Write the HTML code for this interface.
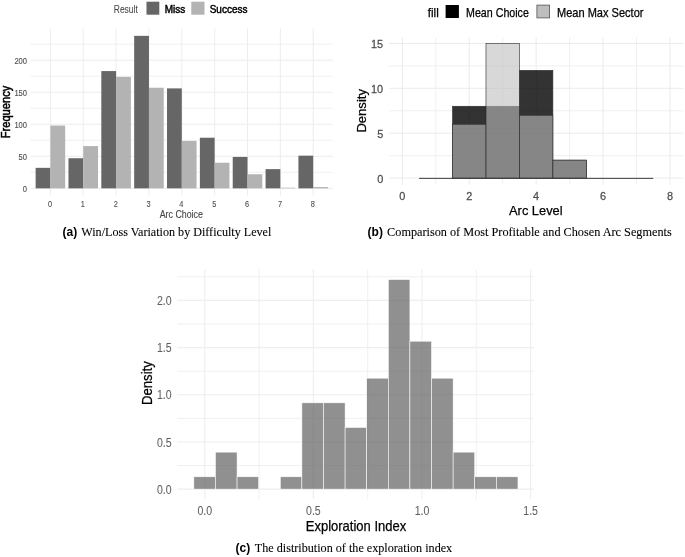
<!DOCTYPE html>
<html><head><meta charset="utf-8"><style>
html,body{margin:0;padding:0;background:#fff;}
svg{display:block;font-family:"Liberation Sans", sans-serif;will-change:transform;}
</style></head><body>
<svg width="685" height="557" viewBox="0 0 685 557">
<line x1="30.7" y1="172.33" x2="332.9" y2="172.33" stroke="#eeeeee" stroke-width="0.9"/>
<line x1="30.7" y1="140.29" x2="332.9" y2="140.29" stroke="#eeeeee" stroke-width="0.9"/>
<line x1="30.7" y1="108.25" x2="332.9" y2="108.25" stroke="#eeeeee" stroke-width="0.9"/>
<line x1="30.7" y1="76.21" x2="332.9" y2="76.21" stroke="#eeeeee" stroke-width="0.9"/>
<line x1="30.7" y1="44.17" x2="332.9" y2="44.17" stroke="#eeeeee" stroke-width="0.9"/>
<line x1="30.7" y1="188.35" x2="332.9" y2="188.35" stroke="#ebebeb" stroke-width="0.9"/>
<line x1="30.7" y1="156.31" x2="332.9" y2="156.31" stroke="#ebebeb" stroke-width="0.9"/>
<line x1="30.7" y1="124.27" x2="332.9" y2="124.27" stroke="#ebebeb" stroke-width="0.9"/>
<line x1="30.7" y1="92.23" x2="332.9" y2="92.23" stroke="#ebebeb" stroke-width="0.9"/>
<line x1="30.7" y1="60.19" x2="332.9" y2="60.19" stroke="#ebebeb" stroke-width="0.9"/>
<line x1="50.4" y1="28.6" x2="50.4" y2="195.6" stroke="#ebebeb" stroke-width="0.9"/>
<line x1="83.25" y1="28.6" x2="83.25" y2="195.6" stroke="#ebebeb" stroke-width="0.9"/>
<line x1="116.1" y1="28.6" x2="116.1" y2="195.6" stroke="#ebebeb" stroke-width="0.9"/>
<line x1="148.95" y1="28.6" x2="148.95" y2="195.6" stroke="#ebebeb" stroke-width="0.9"/>
<line x1="181.8" y1="28.6" x2="181.8" y2="195.6" stroke="#ebebeb" stroke-width="0.9"/>
<line x1="214.65" y1="28.6" x2="214.65" y2="195.6" stroke="#ebebeb" stroke-width="0.9"/>
<line x1="247.5" y1="28.6" x2="247.5" y2="195.6" stroke="#ebebeb" stroke-width="0.9"/>
<line x1="280.35" y1="28.6" x2="280.35" y2="195.6" stroke="#ebebeb" stroke-width="0.9"/>
<line x1="313.2" y1="28.6" x2="313.2" y2="195.6" stroke="#ebebeb" stroke-width="0.9"/>
<rect x="35.62" y="167.84" width="14.78" height="20.51" fill="#666666"/>
<rect x="50.4" y="125.55" width="14.78" height="62.8" fill="#b3b3b3"/>
<rect x="68.47" y="158.23" width="14.78" height="30.12" fill="#666666"/>
<rect x="83.25" y="146.06" width="14.78" height="42.29" fill="#b3b3b3"/>
<rect x="101.32" y="71.08" width="14.78" height="117.27" fill="#666666"/>
<rect x="116.1" y="76.85" width="14.78" height="111.5" fill="#b3b3b3"/>
<rect x="134.17" y="35.84" width="14.78" height="152.51" fill="#666666"/>
<rect x="148.95" y="87.74" width="14.78" height="100.61" fill="#b3b3b3"/>
<rect x="167.02" y="88.39" width="14.78" height="99.96" fill="#666666"/>
<rect x="181.8" y="140.93" width="14.78" height="47.42" fill="#b3b3b3"/>
<rect x="199.87" y="137.73" width="14.78" height="50.62" fill="#666666"/>
<rect x="214.65" y="162.72" width="14.78" height="25.63" fill="#b3b3b3"/>
<rect x="232.72" y="156.95" width="14.78" height="31.4" fill="#666666"/>
<rect x="247.5" y="174.25" width="14.78" height="14.1" fill="#b3b3b3"/>
<rect x="265.57" y="169.13" width="14.78" height="19.22" fill="#666666"/>
<rect x="280.35" y="187.71" width="14.78" height="0.64" fill="#b3b3b3"/>
<rect x="298.42" y="155.67" width="14.78" height="32.68" fill="#666666"/>
<rect x="313.2" y="187.07" width="14.78" height="1.28" fill="#b3b3b3"/>
<g transform="translate(27 191.75) scale(0.87 1)">
<text x="0" y="0" font-size="8.7" fill="#4d4d4d" text-anchor="end" stroke="#4d4d4d" stroke-width="0.12">0</text>
</g>
<g transform="translate(27 159.71) scale(0.87 1)">
<text x="0" y="0" font-size="8.7" fill="#4d4d4d" text-anchor="end" stroke="#4d4d4d" stroke-width="0.12">50</text>
</g>
<g transform="translate(27 127.67) scale(0.87 1)">
<text x="0" y="0" font-size="8.7" fill="#4d4d4d" text-anchor="end" stroke="#4d4d4d" stroke-width="0.12">100</text>
</g>
<g transform="translate(27 95.63) scale(0.87 1)">
<text x="0" y="0" font-size="8.7" fill="#4d4d4d" text-anchor="end" stroke="#4d4d4d" stroke-width="0.12">150</text>
</g>
<g transform="translate(27 63.59) scale(0.87 1)">
<text x="0" y="0" font-size="8.7" fill="#4d4d4d" text-anchor="end" stroke="#4d4d4d" stroke-width="0.12">200</text>
</g>
<g transform="translate(50 206.9) scale(0.84 1)">
<text x="0" y="0" font-size="8.8" fill="#4d4d4d" text-anchor="middle" stroke="#4d4d4d" stroke-width="0.1">0</text>
</g>
<g transform="translate(82.85 206.9) scale(0.84 1)">
<text x="0" y="0" font-size="8.8" fill="#4d4d4d" text-anchor="middle" stroke="#4d4d4d" stroke-width="0.1">1</text>
</g>
<g transform="translate(115.7 206.9) scale(0.84 1)">
<text x="0" y="0" font-size="8.8" fill="#4d4d4d" text-anchor="middle" stroke="#4d4d4d" stroke-width="0.1">2</text>
</g>
<g transform="translate(148.55 206.9) scale(0.84 1)">
<text x="0" y="0" font-size="8.8" fill="#4d4d4d" text-anchor="middle" stroke="#4d4d4d" stroke-width="0.1">3</text>
</g>
<g transform="translate(181.4 206.9) scale(0.84 1)">
<text x="0" y="0" font-size="8.8" fill="#4d4d4d" text-anchor="middle" stroke="#4d4d4d" stroke-width="0.1">4</text>
</g>
<g transform="translate(214.25 206.9) scale(0.84 1)">
<text x="0" y="0" font-size="8.8" fill="#4d4d4d" text-anchor="middle" stroke="#4d4d4d" stroke-width="0.1">5</text>
</g>
<g transform="translate(247.1 206.9) scale(0.84 1)">
<text x="0" y="0" font-size="8.8" fill="#4d4d4d" text-anchor="middle" stroke="#4d4d4d" stroke-width="0.1">6</text>
</g>
<g transform="translate(279.95 206.9) scale(0.84 1)">
<text x="0" y="0" font-size="8.8" fill="#4d4d4d" text-anchor="middle" stroke="#4d4d4d" stroke-width="0.1">7</text>
</g>
<g transform="translate(312.8 206.9) scale(0.84 1)">
<text x="0" y="0" font-size="8.8" fill="#4d4d4d" text-anchor="middle" stroke="#4d4d4d" stroke-width="0.1">8</text>
</g>
<text x="181.3" y="218.3" font-size="10.1" fill="#444" text-anchor="middle" textLength="43.2" lengthAdjust="spacingAndGlyphs" stroke="#444" stroke-width="0.1">Arc Choice</text>
<text x="10.3" y="112" font-size="11.9" fill="#000" text-anchor="middle" textLength="52.5" lengthAdjust="spacingAndGlyphs" transform="rotate(-90 10.3 112)" stroke="#000" stroke-width="0.5">Frequency</text>
<text x="113.8" y="12.8" font-size="10.1" fill="#444" text-anchor="start" textLength="24" lengthAdjust="spacingAndGlyphs" stroke="#444" stroke-width="0.05">Result</text>
<rect x="146.5" y="1.7" width="12.8" height="13" fill="#666666"/>
<text x="164.7" y="12.6" font-size="10.2" fill="#000" text-anchor="start" textLength="20.5" lengthAdjust="spacingAndGlyphs" stroke="#000" stroke-width="0.45">Miss</text>
<rect x="191.3" y="1.7" width="13.2" height="13" fill="#b3b3b3"/>
<text x="209.7" y="12.6" font-size="10.2" fill="#000" text-anchor="start" textLength="37.8" lengthAdjust="spacingAndGlyphs" stroke="#000" stroke-width="0.45">Success</text>
<g transform="translate(62.5 235.8) scale(0.955 1)">
<text x="0" y="0" font-size="12.6" fill="#000" text-anchor="start" font-weight="bold">(a)</text>
</g>
<text x="81.3" y="235.9" font-size="13.2" fill="#000" text-anchor="start" font-family='"Liberation Serif", serif' textLength="190" lengthAdjust="spacingAndGlyphs" stroke="#000" stroke-width="0.1">Win/Loss Variation by Difficulty Level</text>
<line x1="389" y1="155.65" x2="683.4" y2="155.65" stroke="#eeeeee" stroke-width="0.9"/>
<line x1="389" y1="110.75" x2="683.4" y2="110.75" stroke="#eeeeee" stroke-width="0.9"/>
<line x1="389" y1="65.85" x2="683.4" y2="65.85" stroke="#eeeeee" stroke-width="0.9"/>
<line x1="435.8" y1="37.2" x2="435.8" y2="184.8" stroke="#eeeeee" stroke-width="0.9"/>
<line x1="502.7" y1="37.2" x2="502.7" y2="184.8" stroke="#eeeeee" stroke-width="0.9"/>
<line x1="569.6" y1="37.2" x2="569.6" y2="184.8" stroke="#eeeeee" stroke-width="0.9"/>
<line x1="636.5" y1="37.2" x2="636.5" y2="184.8" stroke="#eeeeee" stroke-width="0.9"/>
<line x1="389" y1="178.1" x2="683.4" y2="178.1" stroke="#ebebeb" stroke-width="1"/>
<line x1="389" y1="133.2" x2="683.4" y2="133.2" stroke="#ebebeb" stroke-width="1"/>
<line x1="389" y1="88.3" x2="683.4" y2="88.3" stroke="#ebebeb" stroke-width="1"/>
<line x1="389" y1="43.4" x2="683.4" y2="43.4" stroke="#ebebeb" stroke-width="1"/>
<line x1="402.35" y1="37.2" x2="402.35" y2="184.8" stroke="#ebebeb" stroke-width="1"/>
<line x1="469.25" y1="37.2" x2="469.25" y2="184.8" stroke="#ebebeb" stroke-width="1"/>
<line x1="536.15" y1="37.2" x2="536.15" y2="184.8" stroke="#ebebeb" stroke-width="1"/>
<line x1="603.05" y1="37.2" x2="603.05" y2="184.8" stroke="#ebebeb" stroke-width="1"/>
<line x1="669.95" y1="37.2" x2="669.95" y2="184.8" stroke="#ebebeb" stroke-width="1"/>
<rect x="419.08" y="178.1" width="33.45" height="0" fill="#000" fill-opacity="0.8" stroke="#2a2a2a" stroke-width="0.6"/>
<rect x="452.53" y="106.26" width="33.45" height="71.84" fill="#000" fill-opacity="0.8" stroke="#2a2a2a" stroke-width="0.6"/>
<rect x="485.98" y="106.26" width="33.45" height="71.84" fill="#000" fill-opacity="0.8" stroke="#2a2a2a" stroke-width="0.6"/>
<rect x="519.43" y="70.34" width="33.45" height="107.76" fill="#000" fill-opacity="0.8" stroke="#2a2a2a" stroke-width="0.6"/>
<rect x="552.88" y="160.14" width="33.45" height="17.96" fill="#000" fill-opacity="0.8" stroke="#2a2a2a" stroke-width="0.6"/>
<rect x="586.33" y="178.1" width="33.45" height="0" fill="#000" fill-opacity="0.8" stroke="#2a2a2a" stroke-width="0.6"/>
<rect x="619.78" y="178.1" width="33.45" height="0" fill="#000" fill-opacity="0.8" stroke="#2a2a2a" stroke-width="0.6"/>
<rect x="419.08" y="178.1" width="33.45" height="0" fill="#bebebe" fill-opacity="0.6" stroke="#2a2a2a" stroke-width="0.6"/>
<rect x="452.53" y="124.22" width="33.45" height="53.88" fill="#bebebe" fill-opacity="0.6" stroke="#2a2a2a" stroke-width="0.6"/>
<rect x="485.98" y="43.4" width="33.45" height="134.7" fill="#bebebe" fill-opacity="0.6" stroke="#2a2a2a" stroke-width="0.6"/>
<rect x="519.43" y="115.24" width="33.45" height="62.86" fill="#bebebe" fill-opacity="0.6" stroke="#2a2a2a" stroke-width="0.6"/>
<rect x="552.88" y="160.14" width="33.45" height="17.96" fill="#bebebe" fill-opacity="0.6" stroke="#2a2a2a" stroke-width="0.6"/>
<rect x="586.33" y="178.1" width="33.45" height="0" fill="#bebebe" fill-opacity="0.6" stroke="#2a2a2a" stroke-width="0.6"/>
<rect x="619.78" y="178.1" width="33.45" height="0" fill="#bebebe" fill-opacity="0.6" stroke="#2a2a2a" stroke-width="0.6"/>
<line x1="419.08" y1="178.35" x2="653.23" y2="178.35" stroke="#3a3a3a" stroke-width="1"/>
<g transform="translate(383.2 182.7) scale(0.95 1)">
<text x="0" y="0" font-size="11.5" fill="#4d4d4d" text-anchor="end" stroke="#4d4d4d" stroke-width="0.25">0</text>
</g>
<g transform="translate(383.2 137.8) scale(0.95 1)">
<text x="0" y="0" font-size="11.5" fill="#4d4d4d" text-anchor="end" stroke="#4d4d4d" stroke-width="0.25">5</text>
</g>
<g transform="translate(383.2 92.9) scale(0.95 1)">
<text x="0" y="0" font-size="11.5" fill="#4d4d4d" text-anchor="end" stroke="#4d4d4d" stroke-width="0.25">10</text>
</g>
<g transform="translate(383.2 48) scale(0.95 1)">
<text x="0" y="0" font-size="11.5" fill="#4d4d4d" text-anchor="end" stroke="#4d4d4d" stroke-width="0.25">15</text>
</g>
<g transform="translate(402.35 200.3) scale(0.95 1)">
<text x="0" y="0" font-size="11.5" fill="#4d4d4d" text-anchor="middle" stroke="#4d4d4d" stroke-width="0.25">0</text>
</g>
<g transform="translate(469.25 200.3) scale(0.95 1)">
<text x="0" y="0" font-size="11.5" fill="#4d4d4d" text-anchor="middle" stroke="#4d4d4d" stroke-width="0.25">2</text>
</g>
<g transform="translate(536.15 200.3) scale(0.95 1)">
<text x="0" y="0" font-size="11.5" fill="#4d4d4d" text-anchor="middle" stroke="#4d4d4d" stroke-width="0.25">4</text>
</g>
<g transform="translate(603.05 200.3) scale(0.95 1)">
<text x="0" y="0" font-size="11.5" fill="#4d4d4d" text-anchor="middle" stroke="#4d4d4d" stroke-width="0.25">6</text>
</g>
<g transform="translate(669.95 200.3) scale(0.95 1)">
<text x="0" y="0" font-size="11.5" fill="#4d4d4d" text-anchor="middle" stroke="#4d4d4d" stroke-width="0.25">8</text>
</g>
<text x="535.8" y="214.9" font-size="13.6" fill="#000" text-anchor="middle" textLength="53.5" lengthAdjust="spacingAndGlyphs" stroke="#000" stroke-width="0.25">Arc Level</text>
<text x="366.2" y="110.8" font-size="13.6" fill="#000" text-anchor="middle" textLength="43.5" lengthAdjust="spacingAndGlyphs" transform="rotate(-90 366.2 110.8)" stroke="#000" stroke-width="0.25">Density</text>
<text x="427.8" y="16.5" font-size="11.9" fill="#000" text-anchor="start" textLength="11" lengthAdjust="spacingAndGlyphs" stroke="#000" stroke-width="0.25">fill</text>
<rect x="445.6" y="5" width="13.3" height="13" fill="#000"/>
<text x="466" y="16.5" font-size="11.9" fill="#000" text-anchor="start" textLength="62.9" lengthAdjust="spacingAndGlyphs" stroke="#000" stroke-width="0.25">Mean Choice</text>
<rect x="536.9" y="5.1" width="12.7" height="12.8" fill="#bebebe" stroke="#555" stroke-width="0.8"/>
<text x="557" y="16.5" font-size="11.9" fill="#000" text-anchor="start" textLength="86.5" lengthAdjust="spacingAndGlyphs" stroke="#000" stroke-width="0.25">Mean Max Sector</text>
<g transform="translate(367.6 235.8) scale(0.955 1)">
<text x="0" y="0" font-size="12.6" fill="#000" text-anchor="start" font-weight="bold">(b)</text>
</g>
<text x="387.1" y="235.9" font-size="13.2" fill="#000" text-anchor="start" font-family='"Liberation Serif", serif' textLength="284.6" lengthAdjust="spacingAndGlyphs" stroke="#000" stroke-width="0.1">Comparison of Most Profitable and Chosen Arc Segments</text>
<line x1="177.3" y1="465.51" x2="533.8" y2="465.51" stroke="#f0f0f0" stroke-width="1"/>
<line x1="177.3" y1="418.34" x2="533.8" y2="418.34" stroke="#f0f0f0" stroke-width="1"/>
<line x1="177.3" y1="371.16" x2="533.8" y2="371.16" stroke="#f0f0f0" stroke-width="1"/>
<line x1="177.3" y1="323.99" x2="533.8" y2="323.99" stroke="#f0f0f0" stroke-width="1"/>
<line x1="177.3" y1="276.81" x2="533.8" y2="276.81" stroke="#f0f0f0" stroke-width="1"/>
<line x1="259.1" y1="269.2" x2="259.1" y2="499.1" stroke="#f0f0f0" stroke-width="1"/>
<line x1="367.7" y1="269.2" x2="367.7" y2="499.1" stroke="#f0f0f0" stroke-width="1"/>
<line x1="476.3" y1="269.2" x2="476.3" y2="499.1" stroke="#f0f0f0" stroke-width="1"/>
<line x1="177.3" y1="489.1" x2="533.8" y2="489.1" stroke="#eeeeee" stroke-width="1.1"/>
<line x1="177.3" y1="441.93" x2="533.8" y2="441.93" stroke="#eeeeee" stroke-width="1.1"/>
<line x1="177.3" y1="394.75" x2="533.8" y2="394.75" stroke="#eeeeee" stroke-width="1.1"/>
<line x1="177.3" y1="347.58" x2="533.8" y2="347.58" stroke="#eeeeee" stroke-width="1.1"/>
<line x1="177.3" y1="300.4" x2="533.8" y2="300.4" stroke="#eeeeee" stroke-width="1.1"/>
<line x1="204.8" y1="269.2" x2="204.8" y2="499.1" stroke="#eeeeee" stroke-width="1.1"/>
<line x1="313.4" y1="269.2" x2="313.4" y2="499.1" stroke="#eeeeee" stroke-width="1.1"/>
<line x1="422" y1="269.2" x2="422" y2="499.1" stroke="#eeeeee" stroke-width="1.1"/>
<line x1="530.6" y1="269.2" x2="530.6" y2="499.1" stroke="#eeeeee" stroke-width="1.1"/>
<rect x="193.85" y="476.78" width="21.61" height="12.32" fill="#fff" fill-opacity="0.5"/>
<rect x="193.85" y="476.78" width="21.61" height="12.32" fill="#000" fill-opacity="0.435" stroke="#fff" stroke-width="0.55"/>
<rect x="215.46" y="452.13" width="21.61" height="36.97" fill="#fff" fill-opacity="0.5"/>
<rect x="215.46" y="452.13" width="21.61" height="36.97" fill="#000" fill-opacity="0.435" stroke="#fff" stroke-width="0.55"/>
<rect x="237.06" y="476.78" width="21.61" height="12.32" fill="#fff" fill-opacity="0.5"/>
<rect x="237.06" y="476.78" width="21.61" height="12.32" fill="#000" fill-opacity="0.435" stroke="#fff" stroke-width="0.55"/>
<rect x="280.28" y="476.78" width="21.61" height="12.32" fill="#fff" fill-opacity="0.5"/>
<rect x="280.28" y="476.78" width="21.61" height="12.32" fill="#000" fill-opacity="0.435" stroke="#fff" stroke-width="0.55"/>
<rect x="301.88" y="402.83" width="21.61" height="86.27" fill="#fff" fill-opacity="0.5"/>
<rect x="301.88" y="402.83" width="21.61" height="86.27" fill="#000" fill-opacity="0.435" stroke="#fff" stroke-width="0.55"/>
<rect x="323.49" y="402.83" width="21.61" height="86.27" fill="#fff" fill-opacity="0.5"/>
<rect x="323.49" y="402.83" width="21.61" height="86.27" fill="#000" fill-opacity="0.435" stroke="#fff" stroke-width="0.55"/>
<rect x="345.1" y="427.48" width="21.61" height="61.62" fill="#fff" fill-opacity="0.5"/>
<rect x="345.1" y="427.48" width="21.61" height="61.62" fill="#000" fill-opacity="0.435" stroke="#fff" stroke-width="0.55"/>
<rect x="366.71" y="378.18" width="21.61" height="110.92" fill="#fff" fill-opacity="0.5"/>
<rect x="366.71" y="378.18" width="21.61" height="110.92" fill="#000" fill-opacity="0.435" stroke="#fff" stroke-width="0.55"/>
<rect x="388.31" y="279.58" width="21.61" height="209.52" fill="#fff" fill-opacity="0.5"/>
<rect x="388.31" y="279.58" width="21.61" height="209.52" fill="#000" fill-opacity="0.435" stroke="#fff" stroke-width="0.55"/>
<rect x="409.92" y="341.2" width="21.61" height="147.9" fill="#fff" fill-opacity="0.5"/>
<rect x="409.92" y="341.2" width="21.61" height="147.9" fill="#000" fill-opacity="0.435" stroke="#fff" stroke-width="0.55"/>
<rect x="431.53" y="378.18" width="21.61" height="110.92" fill="#fff" fill-opacity="0.5"/>
<rect x="431.53" y="378.18" width="21.61" height="110.92" fill="#000" fill-opacity="0.435" stroke="#fff" stroke-width="0.55"/>
<rect x="453.13" y="452.13" width="21.61" height="36.97" fill="#fff" fill-opacity="0.5"/>
<rect x="453.13" y="452.13" width="21.61" height="36.97" fill="#000" fill-opacity="0.435" stroke="#fff" stroke-width="0.55"/>
<rect x="474.74" y="476.78" width="21.61" height="12.32" fill="#fff" fill-opacity="0.5"/>
<rect x="474.74" y="476.78" width="21.61" height="12.32" fill="#000" fill-opacity="0.435" stroke="#fff" stroke-width="0.55"/>
<rect x="496.35" y="476.78" width="21.61" height="12.32" fill="#fff" fill-opacity="0.5"/>
<rect x="496.35" y="476.78" width="21.61" height="12.32" fill="#000" fill-opacity="0.435" stroke="#fff" stroke-width="0.55"/>
<g transform="translate(171.6 493.8) scale(0.88 1)">
<text x="0" y="0" font-size="12" fill="#606060" text-anchor="end" stroke="#606060" stroke-width="0.05">0.0</text>
</g>
<g transform="translate(171.6 446.62) scale(0.88 1)">
<text x="0" y="0" font-size="12" fill="#606060" text-anchor="end" stroke="#606060" stroke-width="0.05">0.5</text>
</g>
<g transform="translate(171.6 399.45) scale(0.88 1)">
<text x="0" y="0" font-size="12" fill="#606060" text-anchor="end" stroke="#606060" stroke-width="0.05">1.0</text>
</g>
<g transform="translate(171.6 352.28) scale(0.88 1)">
<text x="0" y="0" font-size="12" fill="#606060" text-anchor="end" stroke="#606060" stroke-width="0.05">1.5</text>
</g>
<g transform="translate(171.6 305.1) scale(0.88 1)">
<text x="0" y="0" font-size="12" fill="#606060" text-anchor="end" stroke="#606060" stroke-width="0.05">2.0</text>
</g>
<g transform="translate(204.8 515) scale(0.88 1)">
<text x="0" y="0" font-size="12" fill="#606060" text-anchor="middle" stroke="#606060" stroke-width="0.05">0.0</text>
</g>
<g transform="translate(313.4 515) scale(0.88 1)">
<text x="0" y="0" font-size="12" fill="#606060" text-anchor="middle" stroke="#606060" stroke-width="0.05">0.5</text>
</g>
<g transform="translate(422 515) scale(0.88 1)">
<text x="0" y="0" font-size="12" fill="#606060" text-anchor="middle" stroke="#606060" stroke-width="0.05">1.0</text>
</g>
<g transform="translate(530.6 515) scale(0.88 1)">
<text x="0" y="0" font-size="12" fill="#606060" text-anchor="middle" stroke="#606060" stroke-width="0.05">1.5</text>
</g>
<text x="356" y="530.6" font-size="14.2" fill="#000" text-anchor="middle" textLength="100.5" lengthAdjust="spacingAndGlyphs" stroke="#000" stroke-width="0.25">Exploration Index</text>
<text x="151.6" y="383.1" font-size="14" fill="#000" text-anchor="middle" textLength="43.8" lengthAdjust="spacingAndGlyphs" transform="rotate(-90 151.6 383.1)" stroke="#000" stroke-width="0.25">Density</text>
<g transform="translate(235.5 552.4) scale(0.955 1)">
<text x="0" y="0" font-size="12.6" fill="#000" text-anchor="start" font-weight="bold">(c)</text>
</g>
<text x="254.8" y="552.4" font-size="13.2" fill="#000" text-anchor="start" font-family='"Liberation Serif", serif' textLength="197.4" lengthAdjust="spacingAndGlyphs" stroke="#000" stroke-width="0.1">The distribution of the exploration index</text>
</svg>
</body></html>
